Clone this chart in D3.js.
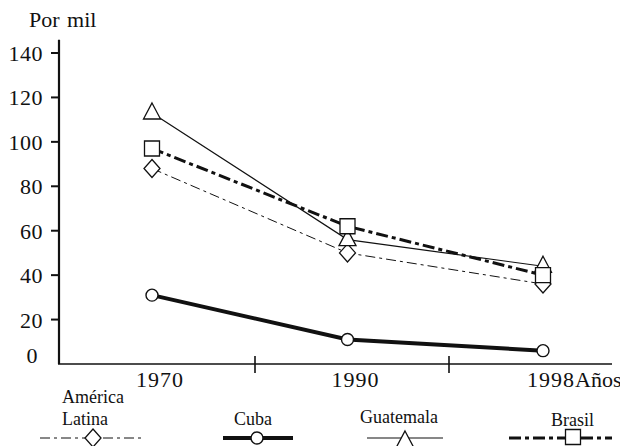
<!DOCTYPE html>
<html><head>
<script src="https://cdn.jsdelivr.net/npm/d3@7"></script>
</head>
<body style="margin:0">
<svg id="chart" width="620" height="446"></svg>
<script>
// ---- data ----
const years = [1970, 1990, 1998];
const seriesNames = ["América Latina", "Cuba", "Guatemala", "Brasil"];
const americaLatina = [88, 50, 36];
const cuba = [31, 11, 6];
const guatemala = [113, 56, 44];
const brasil = [97, 62, 40];
const yTicks = [0, 20, 40, 60, 80, 100, 120, 140];
const yLabel = "Por mil";
const xLabel = "Años";

// ---- styles / layout ----
const styles = {
  "América Latina": {w: 1, dash: "10,4,3,4", marker: "diamond", legendX: [40, 143], legendM: 93, legendMY: 438, text: [["América", 62, 403], ["Latina", 62, 425]]},
  "Cuba": {w: 4, dash: null, marker: "circle", legendX: [223, 293], legendM: 257, legendMY: 438, text: [["Cuba", 234, 425]]},
  "Guatemala": {w: 1.2, dash: null, marker: "triangle", legendX: [367, 443], legendM: 405, legendMY: 441, text: [["Guatemala", 360, 423]]},
  "Brasil": {w: 3, dash: "12,4,4,4", marker: "square", legendX: [509, 612], legendM: 573, legendMY: 437, text: [["Brasil", 551, 426]]}
};
const values = {"América Latina": americaLatina, "Cuba": cuba, "Guatemala": guatemala, "Brasil": brasil};

const FONT = "'Liberation Serif'";
const svg = d3.select("#chart").style("font-family", FONT, "important");
const x = d3.scalePoint().domain(years).range([152, 543]);
const y = d3.scaleLinear().domain([0, 140]).range([364, 53]);

function markerPath(type) {
  switch (type) {
    case "diamond": return "M0,-9L8,0L0,9L-8,0Z";
    case "triangle": return "M0,-10L8.5,6L-8.5,6Z";
    case "square": return "M-7.5,-7.5H7.5V7.5H-7.5Z";
  }
}
function drawMarker(g, type, cx, cy) {
  if (type === "circle") {
    g.append("circle").attr("cx", cx).attr("cy", cy).attr("r", 6)
      .attr("fill", "#fff").attr("stroke", "#111").attr("stroke-width", 1.4);
  } else {
    g.append("path").attr("d", markerPath(type))
      .attr("transform", `translate(${cx},${cy})`)
      .attr("fill", "#fff").attr("stroke", "#111").attr("stroke-width", 1.3);
  }
}
function addText(g, str, tx, ty, size) {
  return g.append("text").attr("x", tx).attr("y", ty)
    .style("font-size", size + "px", "important")
    .style("font-family", FONT, "important").attr("fill", "#111").text(str);
}

// ---- axes ----
const axes = svg.append("g");
axes.append("line").attr("x1", 59).attr("x2", 59).attr("y1", y(146)).attr("y2", y(0))
  .attr("stroke", "#111").attr("stroke-width", 2.2);
axes.append("line").attr("x1", 58).attr("x2", 612).attr("y1", y(0)).attr("y2", y(0))
  .attr("stroke", "#111").attr("stroke-width", 1.6);

yTicks.forEach(v => {
  if (v !== 0) {
    axes.append("line").attr("x1", 51).attr("x2", 59).attr("y1", y(v)).attr("y2", y(v))
      .attr("stroke", "#111").attr("stroke-width", 2);
  }
  addText(axes, v, v === 0 ? 38 : 43, y(v) + (v === 0 ? -1 : 8), 22)
    .attr("text-anchor", "end").attr("letter-spacing", 0.5);
});

for (let i = 0; i < years.length - 1; i++) {
  const mx = i === 0 ? 255 : 449;
  axes.append("line").attr("x1", mx).attr("x2", mx).attr("y1", y(0) - 8).attr("y2", y(0) + 9)
    .attr("stroke", "#111").attr("stroke-width", 1.6);
}
years.forEach((yr, i) => {
  const t = addText(axes, yr, x(yr) - 16, 387, 22).attr("letter-spacing", 1);
  if (i === years.length - 1) t.append("tspan").attr("letter-spacing", 0).text(xLabel);
});

addText(svg, yLabel, 29, 27, 22).attr("word-spacing", 2);

// ---- series ----
const line = d3.line().x((d, i) => x(years[i])).y(d => y(d));
const lineG = svg.append("g");
const markG = svg.append("g");
seriesNames.forEach(name => {
  const s = styles[name];
  lineG.append("path").datum(values[name]).attr("d", line)
    .attr("fill", "none").attr("stroke", "#111").attr("stroke-width", s.w)
    .attr("stroke-dasharray", s.dash);
});
seriesNames.forEach(name => {
  const s = styles[name];
  values[name].forEach((v, i) => drawMarker(markG, s.marker, x(years[i]), y(v)));
});

// ---- legend ----
const leg = svg.append("g");
seriesNames.forEach(name => {
  const s = styles[name];
  s.text.forEach(([t, tx, ty]) => addText(leg, t, tx, ty, 18));
  leg.append("line").attr("x1", s.legendX[0]).attr("x2", s.legendX[1]).attr("y1", 438).attr("y2", 438)
    .attr("stroke", "#111").attr("stroke-width", s.w).attr("stroke-dasharray", s.dash);
  drawMarker(leg, s.marker, s.legendM, s.legendMY);
});
</script>
</body></html>
